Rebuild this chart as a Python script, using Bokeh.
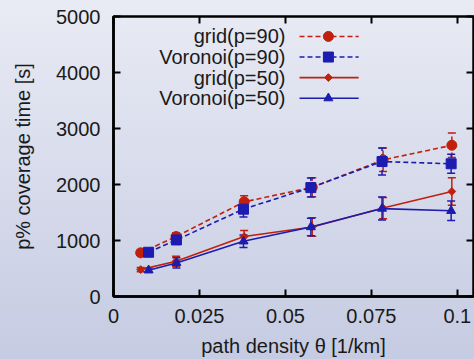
from math import pi
from bokeh.plotting import figure
from bokeh.models import Range1d, LinearAxis, FixedTicker, Whisker, TeeHead, ColumnDataSource
from bokeh.core.properties import value
from bokeh.embed import file_html
from bokeh.resources import INLINE

# ---- data ----
x_grid = [0.0079, 0.0182, 0.0380, 0.0578, 0.0784, 0.0984]
x_vor = [0.0102, 0.0183, 0.0378, 0.0574, 0.0781, 0.0982]

grid90 = [780, 1070, 1690, 1950, 2440, 2700]
grid90_err = [50, 70, 110, 170, 210, 220]
vor90 = [790, 1010, 1560, 1945, 2410, 2370]
vor90_err = [40, 60, 140, 170, 240, 170]
grid50 = [480, 630, 1070, 1240, 1580, 1875]
grid50_err = [40, 90, 110, 165, 190, 245]
vor50 = [470, 600, 985, 1240, 1570, 1530]
vor50_err = [40, 90, 112, 157, 205, 175]

series_labels = ["grid(p=90)", "Voronoi(p=90)", "grid(p=50)", "Voronoi(p=50)"]
x_ticks = [0, 0.025, 0.05, 0.075, 0.1]
x_tick_labels = ["0", "0.025", "0.05", "0.075", "0.1"]
y_ticks = [0, 1000, 2000, 3000, 4000, 5000]
x_title = "path density θ [1/km]"
y_title = "p% coverage time [s]"

FONT = "Liberation Sans"
FS = "20px"
RED = "#c0200c"
BLUE = "#1c1cb0"
TXT = "#1a1a1a"

X_END = 0.1047
p = figure(width=474, height=359, x_range=Range1d(0, X_END), y_range=Range1d(0, 5000),
           output_backend="svg", toolbar_location=None,
           min_border_left=113, min_border_right=1, min_border_top=16, min_border_bottom=62)
p.background_fill_alpha = 0
p.border_fill_alpha = 0
p.grid.visible = False
p.outline_line_color = "black"
p.outline_line_width = 2.5

xa = p.xaxis[0]
xa.ticker = FixedTicker(ticks=x_ticks)
xa.major_label_overrides = {t: l for t, l in zip(x_ticks, x_tick_labels)}
ya = p.yaxis[0]
ya.ticker = FixedTicker(ticks=y_ticks)
for ax in (xa, ya):
    ax.axis_line_width = 2.5
    ax.axis_line_color = "black"
    ax.major_tick_in = 7
    ax.major_tick_out = 0
    ax.major_tick_line_width = 2
    ax.minor_tick_line_color = None
    ax.major_label_text_font = FONT
    ax.major_label_text_font_size = FS
    ax.major_label_text_color = TXT
    ax.axis_label_text_font = FONT
    ax.axis_label_text_font_size = FS
    ax.axis_label_text_font_style = "normal"
    ax.axis_label_text_color = TXT
xa.major_label_standoff = 12
ya.major_label_standoff = 13
xa.axis_label = x_title
ya.axis_label = y_title
xa.axis_label_standoff = 9
ya.axis_label_standoff = 19

top = LinearAxis(ticker=FixedTicker(ticks=x_ticks), major_label_text_font_size="1px",
                 major_label_text_color=None,
                 axis_line_color=None, major_tick_in=7, major_tick_out=0, major_tick_line_width=2,
                 minor_tick_line_color=None, major_label_standoff=0)
right = LinearAxis(ticker=FixedTicker(ticks=y_ticks), major_label_text_font_size="1px",
                   major_label_text_color=None,
                   axis_line_color=None, major_tick_in=7, major_tick_out=0, major_tick_line_width=2,
                   minor_tick_line_color=None, major_label_standoff=0)
p.add_layout(top, "above")
p.add_layout(right, "right")

series = [
    (x_grid, grid90, grid90_err, RED, "5 3", "circle", 10, 0.0),
    (x_vor, vor90, vor90_err, BLUE, "5 3", "square", 10, 0.0),
    (x_grid, grid50, grid50_err, RED, "solid", "square", 5.5, pi / 4),
    (x_vor, vor50, vor50_err, BLUE, "solid", "triangle", 9, 0.0),
]

for xs, ys, es, col, dash, mk, sz, ang in series:
    src = ColumnDataSource(dict(x=xs, y=ys,
                                lo=[y - e for y, e in zip(ys, es)],
                                hi=[y + e for y, e in zip(ys, es)]))
    w = Whisker(base="x", lower="lo", upper="hi", source=src, line_color=col, line_width=1.5,
                line_dash=dash,
                upper_head=TeeHead(size=8, line_color=col, line_width=1.5),
                lower_head=TeeHead(size=8, line_color=col, line_width=1.5))
    p.add_layout(w)
    p.line("x", "y", source=src, line_color=col, line_width=1.6, line_dash=dash)
    p.scatter("x", "y", source=src, marker=mk, size=sz, angle=ang,
              fill_color=col, line_color=col)

# ---- legend (labels left of the samples, as in the original) ----
rows = [4644, 4276, 3909, 3541]
for (xs, ys, es, col, dash, mk, sz, ang), lab, ry in zip(series, series_labels, rows):
    p.line(x=[0.0541, 0.0713], y=[ry, ry], line_color=col, line_width=1.6, line_dash=dash)
    p.scatter(x=[0.0625], y=[ry], marker=mk, size=sz, angle=ang,
              fill_color=col, line_color=col)
    p.text(x=[0.0500], y=[ry], text=[lab], text_align="right", text_baseline="middle",
           text_font=value(FONT), text_font_size=FS, text_color=TXT)

template = """
{% block postamble %}
<style>
html { height: 100%; background: linear-gradient(to bottom, #e9ebf4 0%, #c5cbe2 100%); }
body { background: transparent; }
</style>
{% endblock %}
"""

open("out.html", "w").write(file_html(p, INLINE, template=template))
